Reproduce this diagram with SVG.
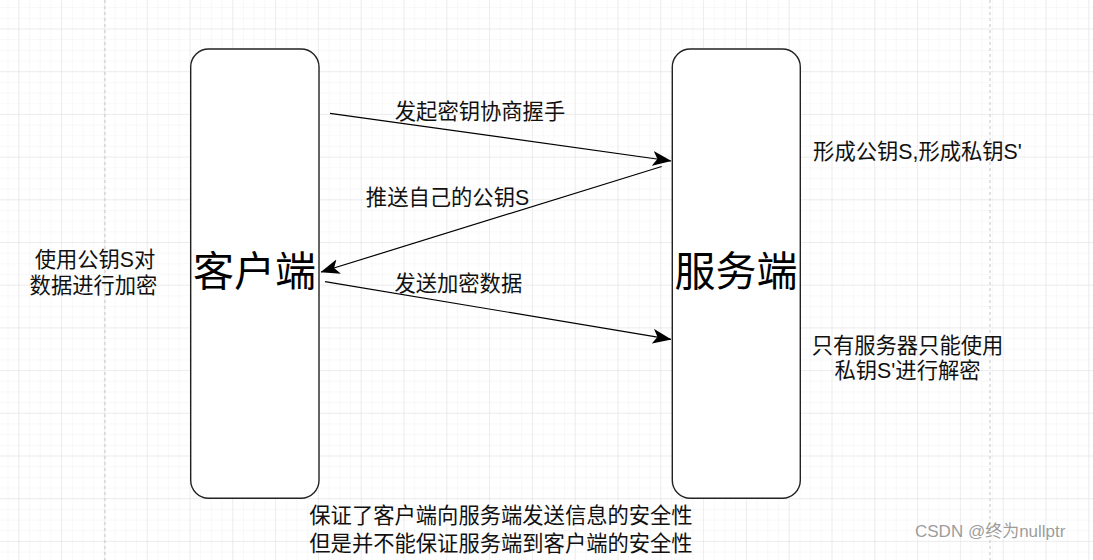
<svg xmlns="http://www.w3.org/2000/svg" width="1093" height="560" viewBox="0 0 1093 560">
  <defs>
    <pattern id="minor" patternUnits="userSpaceOnUse" x="18.3" y="28.5" width="10.7" height="10.675">
      <path d="M0,0 V10.675 M0,0 H10.7" fill="none" stroke="#f1f1f1" stroke-width="1"/>
    </pattern>
    <pattern id="major" patternUnits="userSpaceOnUse" x="18.3" y="28.5" width="42.8" height="42.7">
      <path d="M0,0 V42.7 M0,0 H42.8" fill="none" stroke="#e2e2e2" stroke-width="1"/>
    </pattern>
    <marker id="arrow" markerUnits="userSpaceOnUse" viewBox="0 0 19 15" refX="18.5" refY="7.5" markerWidth="19" markerHeight="15" orient="auto">
      <path d="M0,0 L19,7.5 L0,15 L4.8,7.5 Z" fill="#000"/>
    </marker>
  </defs>
  <style>
    .box { fill: #fff; stroke: #222; stroke-width: 1.4; }
    .big { font-family: "Liberation Sans", "Noto Sans CJK SC", sans-serif; font-size: 41px; fill: #000; text-anchor: middle; dominant-baseline: central; }
    .lbl { font-family: "Liberation Sans", "Noto Sans CJK SC", sans-serif; font-size: 21.3px; fill: #111; text-anchor: middle; dominant-baseline: central; }
    .edge { fill: none; stroke: #000; stroke-width: 1.2; marker-end: url(#arrow); }
    .page { stroke: #cfcfcf; stroke-width: 1.2; stroke-dasharray: 3 3; }
    .wm { font-family: "Liberation Sans", "Noto Sans CJK SC", sans-serif; font-size: 17px; fill: #8a8a8a; fill-opacity: 0.85; }
  </style>

  <g id="background">
    <rect width="1093" height="560" fill="#fff"/>
    <rect width="1093" height="560" fill="url(#minor)"/>
    <rect width="1093" height="560" fill="url(#major)"/>
    <line class="page" x1="105" y1="0" x2="105" y2="560"/>
    <line class="page" x1="990" y1="0" x2="990" y2="560"/>
  </g>

  <g id="client">
    <rect class="box" x="190.7" y="49" width="128.3" height="449.3" rx="18" ry="18"/>
    <text class="big" x="254.5" y="272">客户端</text>
  </g>

  <g id="server">
    <rect class="box" x="672.3" y="49" width="128" height="449.3" rx="18" ry="18"/>
    <text class="big" x="736" y="272">服务端</text>
  </g>

  <g id="connectors">
    <line class="edge" x1="330" y1="113.3" x2="671" y2="161"/>
    <line class="edge" x1="661.7" y1="166.5" x2="321" y2="272"/>
    <line class="edge" x1="325" y1="281.7" x2="671" y2="339.3"/>
  </g>

  <g id="labels">
    <text class="lbl" x="480" y="111.5">发起密钥协商握手</text>
    <text class="lbl" x="447.5" y="198">推送自己的公钥S</text>
    <text class="lbl" x="458.3" y="284">发送加密数据</text>
    <text class="lbl" x="917.5" y="151.5">形成公钥S,形成私钥S'</text>
    <text class="lbl" x="907.5" y="346">只有服务器只能使用</text>
    <text class="lbl" x="907.5" y="371">私钥S'进行解密</text>
    <text class="lbl" x="95" y="260">使用公钥S对</text>
    <text class="lbl" x="93.5" y="286">数据进行加密</text>
    <text class="lbl" x="501" y="516">保证了客户端向服务端发送信息的安全性</text>
    <text class="lbl" x="501" y="544">但是并不能保证服务端到客户端的安全性</text>
  </g>

  <g id="watermark">
    <text class="wm" x="915" y="537">CSDN @终为nullptr</text>
  </g>
</svg>
